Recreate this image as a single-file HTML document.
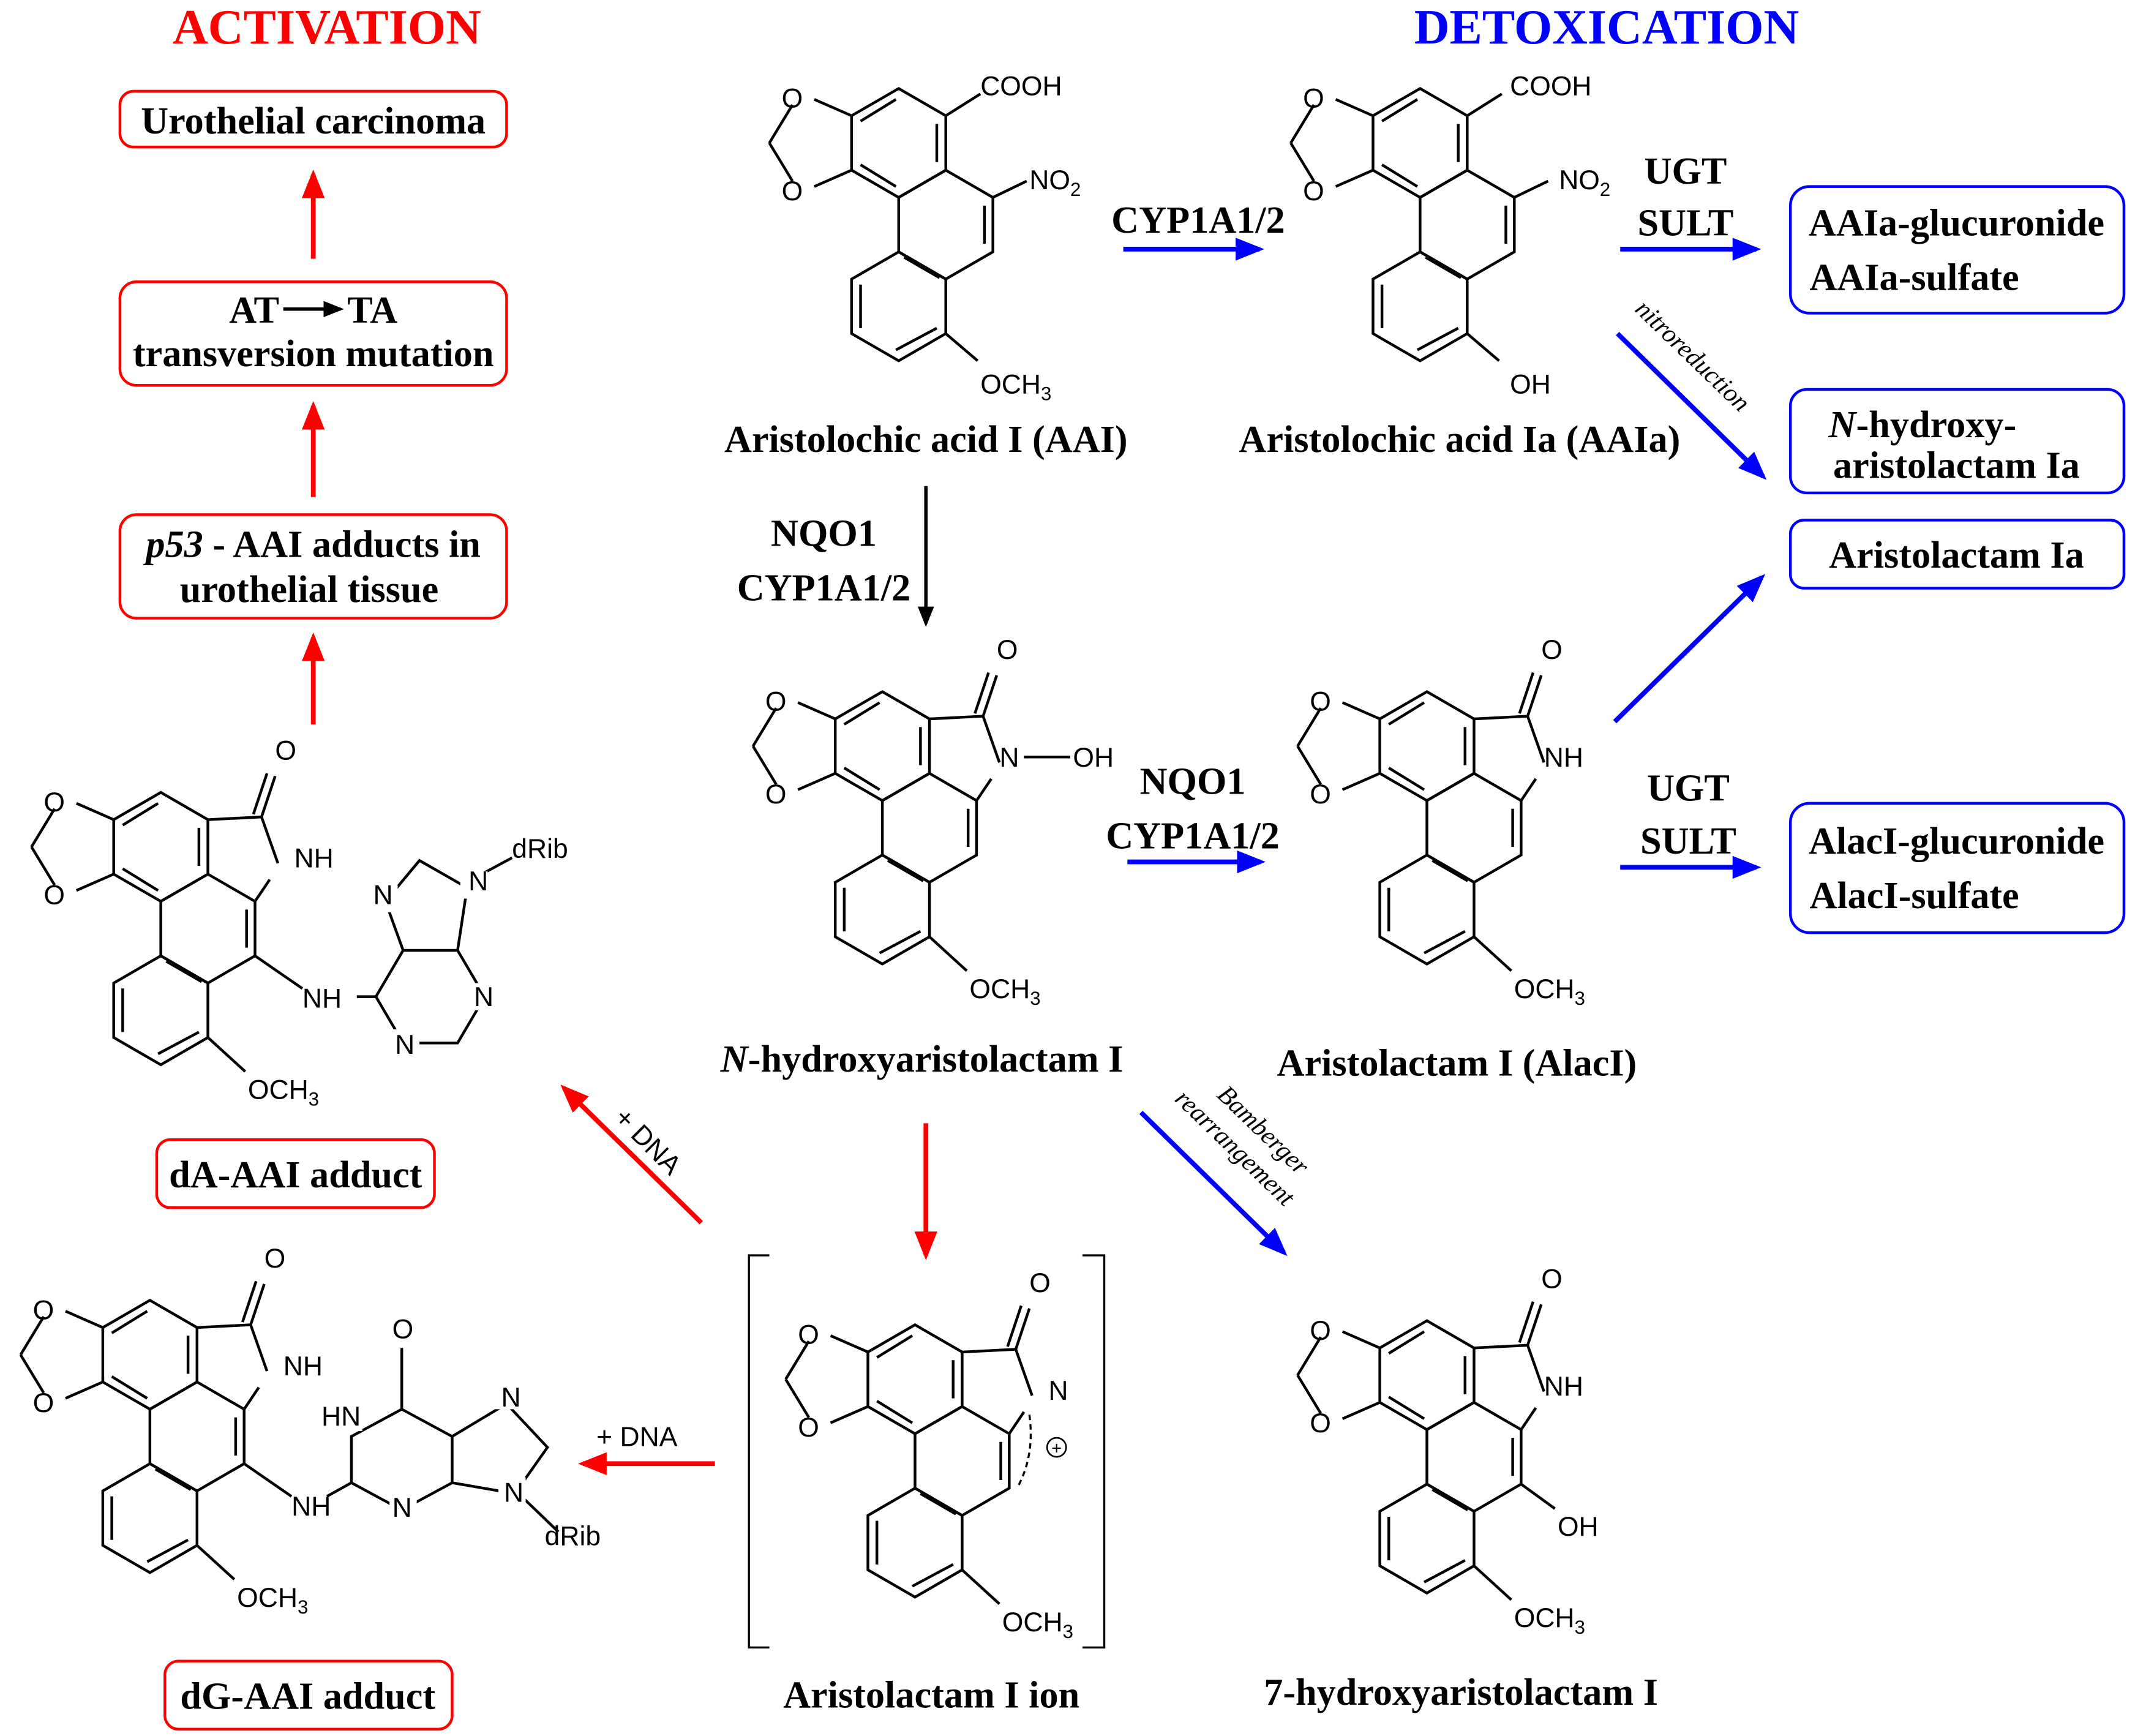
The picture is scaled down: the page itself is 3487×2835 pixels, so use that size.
<!DOCTYPE html>
<html><head><meta charset="utf-8"><style>
html,body{margin:0;padding:0;background:#fff;}
svg{display:block;}
.lb{font-family:"Liberation Serif",serif;font-weight:bold;font-size:28px;fill:#000;}
.at{font-family:"Liberation Sans",sans-serif;font-size:20px;fill:#000;}
.sm{font-family:"Liberation Sans",sans-serif;font-size:14px;}
.it{font-family:"Liberation Serif",serif;font-style:italic;font-size:19px;}
</style></head><body>
<svg width="3487" height="2835" viewBox="0 0 1568 1275" xmlns="http://www.w3.org/2000/svg">
<defs>
<marker id="mr" markerWidth="6" markerHeight="6" refX="5" refY="3" orient="auto" markerUnits="strokeWidth"><path d="M0,0.6 L6,3 L0,5.4 Z" fill="#f00"/></marker>
<marker id="mb" markerWidth="6" markerHeight="6" refX="5" refY="3" orient="auto" markerUnits="strokeWidth"><path d="M0,0.6 L6,3 L0,5.4 Z" fill="#00f"/></marker>
<marker id="mk" markerWidth="6" markerHeight="6" refX="5" refY="3" orient="auto" markerUnits="strokeWidth"><path d="M0,0.6 L6,3 L0,5.4 Z" fill="#000"/></marker>
<g id="core" fill="none" stroke="#000" stroke-width="2">
<polygon points="0,-40 34.6,-20 34.6,20 0,40 -34.6,20 -34.6,-20"/>
<polygon points="34.6,20 69.2,40 69.2,80 34.6,100 0,80 0,40"/>
<polygon points="0,80 34.6,100 34.6,140 0,160 -34.6,140 -34.6,100"/>
<line x1="-28" y1="-16" x2="-2" y2="-32"/><line x1="28" y1="-14" x2="28" y2="14"/><line x1="-28" y1="16" x2="-2" y2="32"/>
<line x1="63" y1="46" x2="63" y2="74"/>
<line x1="-28" y1="104" x2="-28" y2="136"/><line x1="-2" y1="152" x2="28" y2="136"/><line x1="4" y1="84" x2="30" y2="99"/>
<line x1="-34.6" y1="-20" x2="-62" y2="-32"/><line x1="-34.6" y1="20" x2="-62" y2="32"/>
<line x1="-78" y1="-28" x2="-95" y2="0"/><line x1="-95" y1="0" x2="-78" y2="28"/>
</g>
<g id="lact" fill="none" stroke="#000" stroke-width="2">
<line x1="34.6" y1="-20" x2="74" y2="-22"/><line x1="74" y1="-22" x2="86" y2="12"/><line x1="69.2" y1="40" x2="80" y2="24"/>
<line x1="74" y1="-22" x2="84" y2="-52"/><line x1="68" y1="-24" x2="78" y2="-54"/>
</g>
</defs>

<text x="240" y="32" text-anchor="middle" style="font-family:'Liberation Serif',serif;font-weight:bold;font-size:36px;fill:#f00">ACTIVATION</text>
<text x="1180" y="32" text-anchor="middle" style="font-family:'Liberation Serif',serif;font-weight:bold;font-size:36px;fill:#00f">DETOXICATION</text>

<g fill="none" stroke="#f00" stroke-width="2">
<rect x="88" y="67" width="284" height="41" rx="10"/>
<rect x="88" y="207" width="284" height="76" rx="12"/>
<rect x="88" y="378" width="284" height="76" rx="12"/>
<rect x="115" y="837" width="204" height="50" rx="10"/>
<rect x="121" y="1220" width="211" height="50" rx="10"/>
</g>
<g fill="none" stroke="#00f" stroke-width="2">
<rect x="1315" y="137" width="245" height="93" rx="14"/>
<rect x="1315" y="286" width="245" height="76" rx="12"/>
<rect x="1315" y="382" width="245" height="50" rx="10"/>
<rect x="1315" y="590" width="245" height="95" rx="14"/>
</g>
<text class="lb" x="230" y="98" text-anchor="middle">Urothelial carcinoma</text>
<text class="lb" x="205" y="237" text-anchor="end">AT</text>
<text class="lb" x="255" y="237">TA</text>
<line x1="208" y1="227" x2="250" y2="227" stroke="#000" stroke-width="2.5" marker-end="url(#mk)"/>
<text class="lb" x="230" y="269" text-anchor="middle">transversion mutation</text>
<text class="lb" x="230" y="409" text-anchor="middle"><tspan font-style="italic">p53</tspan> - AAI adducts in</text>
<text class="lb" x="227" y="442" text-anchor="middle">urothelial tissue</text>
<text class="lb" x="217" y="872" text-anchor="middle">dA-AAI adduct</text>
<text class="lb" x="226" y="1255" text-anchor="middle">dG-AAI adduct</text>
<text class="lb" x="1437" y="173" text-anchor="middle">AAIa-glucuronide</text>
<text class="lb" x="1406" y="213" text-anchor="middle">AAIa-sulfate</text>
<text class="lb" x="1412" y="321" text-anchor="middle"><tspan font-style="italic">N</tspan>-hydroxy-</text>
<text class="lb" x="1437" y="351" text-anchor="middle">aristolactam Ia</text>
<text class="lb" x="1437" y="417" text-anchor="middle">Aristolactam Ia</text>
<text class="lb" x="1437" y="627" text-anchor="middle">AlacI-glucuronide</text>
<text class="lb" x="1406" y="667" text-anchor="middle">AlacI-sulfate</text>

<text class="lb" x="680" y="332" text-anchor="middle">Aristolochic acid I (AAI)</text>
<text class="lb" x="1072" y="332" text-anchor="middle">Aristolochic acid Ia (AAIa)</text>
<text class="lb" x="677" y="787" text-anchor="middle"><tspan font-style="italic">N</tspan>-hydroxyaristolactam I</text>
<text class="lb" x="1070" y="790" text-anchor="middle">Aristolactam I (AlacI)</text>
<text class="lb" x="684" y="1254" text-anchor="middle">Aristolactam I ion</text>
<text class="lb" x="1073" y="1252" text-anchor="middle">7-hydroxyaristolactam I</text>

<text class="lb" x="605" y="401" text-anchor="middle">NQO1</text>
<text class="lb" x="605" y="441" text-anchor="middle">CYP1A1/2</text>
<text class="lb" x="880" y="171" text-anchor="middle">CYP1A1/2</text>
<text class="lb" x="1238" y="135" text-anchor="middle">UGT</text>
<text class="lb" x="1238" y="173" text-anchor="middle">SULT</text>
<text class="lb" x="876" y="583" text-anchor="middle">NQO1</text>
<text class="lb" x="876" y="623" text-anchor="middle">CYP1A1/2</text>
<text class="lb" x="1240" y="588" text-anchor="middle">UGT</text>
<text class="lb" x="1240" y="627" text-anchor="middle">SULT</text>
<text class="it" transform="translate(1200,228) rotate(44)" font-size="20">nitroreduction</text>
<text class="it" transform="translate(893,805) rotate(44)" font-size="22">Bamberger</text>
<text class="it" transform="translate(862,808) rotate(44)" font-size="22">rearrangement</text>
<text class="at" font-size="23" transform="translate(450,822) rotate(45)">+ DNA</text>
<text class="at" font-size="23" x="438" y="1062">+ DNA</text>

<g stroke-width="3.5" fill="none">
<line x1="230" y1="190" x2="230" y2="128" stroke="#f00" marker-end="url(#mr)"/>
<line x1="230" y1="365" x2="230" y2="298" stroke="#f00" marker-end="url(#mr)"/>
<line x1="230" y1="532" x2="230" y2="468" stroke="#f00" marker-end="url(#mr)"/>
<line x1="680" y1="825" x2="680" y2="922" stroke="#f00" marker-end="url(#mr)"/>
<line x1="515" y1="898" x2="414" y2="799" stroke="#f00" marker-end="url(#mr)"/>
<line x1="525" y1="1075" x2="428" y2="1075" stroke="#f00" marker-end="url(#mr)"/>
<line x1="680" y1="357" x2="680" y2="458" stroke="#000" stroke-width="2.5" marker-end="url(#mk)"/>
<line x1="825" y1="183" x2="925" y2="183" stroke="#00f" marker-end="url(#mb)"/>
<line x1="1190" y1="183" x2="1290" y2="183" stroke="#00f" marker-end="url(#mb)"/>
<line x1="1188" y1="245" x2="1295" y2="350" stroke="#00f" marker-end="url(#mb)"/>
<line x1="1186" y1="530" x2="1294" y2="424" stroke="#00f" marker-end="url(#mb)"/>
<line x1="828" y1="633" x2="926" y2="633" stroke="#00f" marker-end="url(#mb)"/>
<line x1="1190" y1="637" x2="1290" y2="637" stroke="#00f" marker-end="url(#mb)"/>
<line x1="838" y1="817" x2="943" y2="920" stroke="#00f" marker-end="url(#mb)"/>
</g>

<g transform="translate(660,105)"><use href="#core"/>
<g stroke="#000" stroke-width="2"><line x1="34.6" y1="-20" x2="60" y2="-36"/><line x1="69.2" y1="40" x2="94" y2="28"/><line x1="34.6" y1="140" x2="58" y2="160"/></g>
<text class="at" x="-86" y="-26">O</text><text class="at" x="-86" y="42">O</text>
<text class="at" x="60" y="-35">COOH</text><text class="at" x="96" y="34">NO<tspan class="sm" dy="5">2</tspan></text>
<text class="at" x="60" y="184">OCH<tspan class="sm" dy="5">3</tspan></text></g>
<g transform="translate(1043,105)"><use href="#core"/>
<g stroke="#000" stroke-width="2"><line x1="34.6" y1="-20" x2="60" y2="-36"/><line x1="69.2" y1="40" x2="94" y2="28"/><line x1="34.6" y1="140" x2="58" y2="160"/></g>
<text class="at" x="-86" y="-26">O</text><text class="at" x="-86" y="42">O</text>
<text class="at" x="66" y="-35">COOH</text><text class="at" x="102" y="34">NO<tspan class="sm" dy="5">2</tspan></text>
<text class="at" x="66" y="184">OH</text></g>
<g transform="translate(648,548)"><use href="#core"/><use href="#lact"/>
<g stroke="#000" stroke-width="2"><line x1="104" y1="8" x2="138" y2="8"/><line x1="34.6" y1="140" x2="62" y2="165"/></g>
<text class="at" x="84" y="-64">O</text><text class="at" x="-86" y="-26">O</text><text class="at" x="-86" y="42">O</text>
<text class="at" x="86" y="15">N</text><text class="at" x="140" y="15">OH</text>
<text class="at" x="64" y="185">OCH<tspan class="sm" dy="5">3</tspan></text></g>
<g transform="translate(1048,548)"><use href="#core"/><use href="#lact"/>
<g stroke="#000" stroke-width="2"><line x1="34.6" y1="140" x2="62" y2="165"/></g>
<text class="at" x="84" y="-64">O</text><text class="at" x="-86" y="-26">O</text><text class="at" x="-86" y="42">O</text>
<text class="at" x="86" y="15">NH</text>
<text class="at" x="64" y="185">OCH<tspan class="sm" dy="5">3</tspan></text></g>
<g transform="translate(672,1013)"><use href="#core"/><use href="#lact"/>
<g stroke="#000" stroke-width="2"><line x1="34.6" y1="140" x2="62" y2="165"/></g>
<path d="M84,26 Q88,55 76,78" fill="none" stroke="#000" stroke-width="1.5" stroke-dasharray="4,3"/>
<circle cx="104" cy="50" r="7" fill="none" stroke="#000" stroke-width="1.2"/><text x="104" y="55" text-anchor="middle" font-size="13" font-family="Liberation Sans">+</text>
<text class="at" x="84" y="-64">O</text><text class="at" x="-86" y="-26">O</text><text class="at" x="-86" y="42">O</text>
<text class="at" x="98" y="15">N</text>
<text class="at" x="64" y="185">OCH<tspan class="sm" dy="5">3</tspan></text></g>
<path d="M565,922 H550 V1210 H565 M795,922 H811 V1210 H795" fill="none" stroke="#000" stroke-width="1.5"/>
<g transform="translate(1048,1010)"><use href="#core"/><use href="#lact"/>
<g stroke="#000" stroke-width="2"><line x1="69.2" y1="80" x2="94" y2="98"/><line x1="34.6" y1="140" x2="62" y2="165"/></g>
<text class="at" x="84" y="-64">O</text><text class="at" x="-86" y="-26">O</text><text class="at" x="-86" y="42">O</text>
<text class="at" x="86" y="15">NH</text><text class="at" x="96" y="118">OH</text>
<text class="at" x="64" y="185">OCH<tspan class="sm" dy="5">3</tspan></text></g>
<g transform="translate(118,622)"><use href="#core"/><use href="#lact"/>
<g stroke="#000" stroke-width="2" fill="none"><line x1="69.2" y1="80" x2="104" y2="104"/><line x1="34.6" y1="140" x2="62" y2="165"/>
<line x1="144" y1="110" x2="158" y2="110"/>
<polygon points="158,110 178,76 218,76 238,110 218,144 178,144"/>
<polyline points="178,76 165,40 190,10 225,30 218,76"/><line x1="232" y1="22" x2="258" y2="8"/></g>
<rect x="226" y="100" width="24" height="20" fill="#fff"/><rect x="168" y="134" width="22" height="20" fill="#fff"/><rect x="152" y="28" width="22" height="20" fill="#fff"/><rect x="220" y="18" width="20" height="20" fill="#fff"/>
<text class="at" x="84" y="-64">O</text><text class="at" x="-86" y="-26">O</text><text class="at" x="-86" y="42">O</text>
<text class="at" x="98" y="15">NH</text><text class="at" x="104" y="118">NH</text>
<text class="at" x="156" y="42">N</text><text class="at" x="226" y="32">N</text><text class="at" x="258" y="8">dRib</text>
<text class="at" x="230" y="117">N</text><text class="at" x="172" y="152">N</text>
<text class="at" x="64" y="185">OCH<tspan class="sm" dy="5">3</tspan></text></g>
<g transform="translate(110,995)"><use href="#core"/><use href="#lact"/>
<g stroke="#000" stroke-width="2" fill="none"><line x1="69.2" y1="80" x2="104" y2="104"/><line x1="34.6" y1="140" x2="62" y2="165"/>
<line x1="130" y1="104" x2="148" y2="94"/>
<polygon points="148,94 148,60 185,40 222,60 222,94 185,114"/><line x1="185" y1="40" x2="185" y2="-5"/>
<polyline points="222,60 262,36 292,68 268,102 222,94"/><line x1="275" y1="106" x2="300" y2="130"/></g>
<rect x="126" y="36" width="30" height="20" fill="#fff"/><rect x="176" y="102" width="20" height="20" fill="#fff"/><rect x="252" y="20" width="20" height="20" fill="#fff"/><rect x="256" y="90" width="20" height="20" fill="#fff"/>
<text class="at" x="84" y="-64">O</text><text class="at" x="-86" y="-26">O</text><text class="at" x="-86" y="42">O</text>
<text class="at" x="98" y="15">NH</text><text class="at" x="104" y="118">NH</text>
<text class="at" x="126" y="52">HN</text><text class="at" x="178" y="-12">O</text><text class="at" x="178" y="119">N</text>
<text class="at" x="258" y="38">N</text><text class="at" x="260" y="108">N</text><text class="at" x="290" y="140">dRib</text>
<text class="at" x="64" y="185">OCH<tspan class="sm" dy="5">3</tspan></text></g>
</svg>
</body></html>
